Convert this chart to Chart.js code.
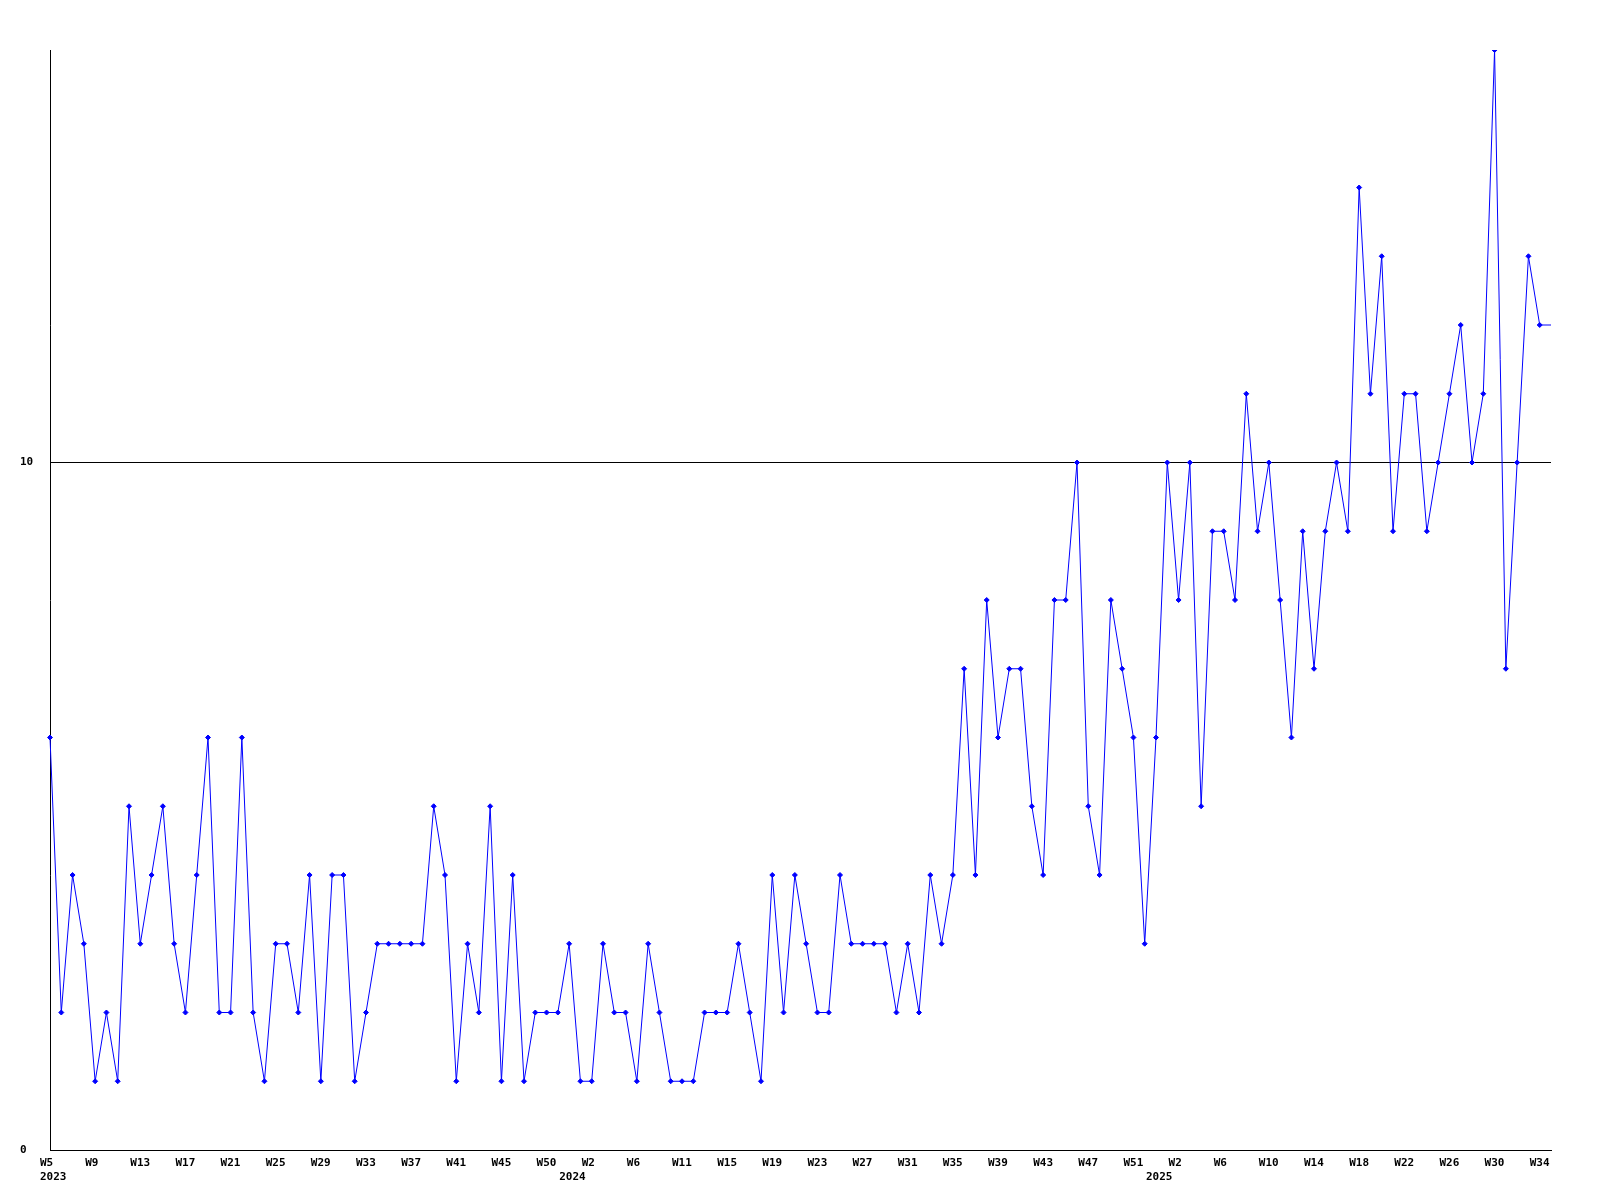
<!DOCTYPE html>
<html>
<head>
<meta charset="utf-8">
<script src="https://cdn.jsdelivr.net/npm/chart.js@4"></script>
<style>
  html, body { margin: 0; padding: 0; background: #fff; }
  #wrap { width: 1600px; height: 1200px; }
</style>
</head>
<body>
<div id="wrap"><canvas id="weekChart" width="1600" height="1200"></canvas></div>
<script>
// week numbers of every point, one list per year
var weeks2023 = [5, 6, 7, 8, 9, 10, 11, 12, 13, 14, 15, 16, 17, 18, 19, 20, 21, 22, 23, 24, 25, 26, 27, 28,
                 29, 30, 31, 32, 33, 34, 35, 36, 37, 38, 39, 40, 41, 42, 43, 44, 45, 46, 47, 49, 50, 51];
var weeks2024 = [0, 1, 2, 3, 4, 5, 6, 7, 8, 9, 11, 12, 13, 14, 15, 16, 17, 18, 19, 20, 21, 22, 23, 24, 25, 26,
                 27, 28, 29, 30, 31, 32, 33, 34, 35, 36, 37, 38, 39, 40, 41, 42, 43, 44, 45, 46, 47, 48, 49, 50, 51, 52];
var weeks2025 = [0, 1, 2, 3, 4, 5, 6, 7, 8, 9, 10, 11, 12, 13, 14, 15, 16, 17, 18, 19, 20, 21, 22, 23, 24, 25,
                 26, 27, 28, 29, 30, 31, 32, 33, 34, 35];

// weekly counts
var counts = [
  6, 2, 4, 3, 1, 2, 1, 5, 3, 4, 5, 3, 2, 4, 6, 2, 2, 6, 2, 1, 3, 3, 2, 4, 1, 4, 4, 1, 2, 3, 3, 3, 3, 3, 5, 4, 1, 3, 2, 5, 1, 4, 1,
  2, 2, 2, 3, 1, 1, 3, 2, 2, 1, 3, 2, 1, 1, 1, 2, 2, 2, 3, 2, 1, 4, 2, 4, 3, 2, 2, 4, 3, 3, 3, 3, 2, 3, 2, 4, 3, 4,
  7, 4, 8, 6, 7, 7, 5, 4, 8, 8, 10, 5, 4, 8, 7, 6, 3, 6, 10, 8, 10, 5,
  9, 9, 8, 11, 9, 10, 8, 6, 9, 7, 9, 10, 9, 14, 11, 13, 9, 11, 11, 9, 10, 11, 12, 10, 11, 16, 7, 10, 13, 12, 12
];

var yTicks = [0, 10];

var years = [];
var weeks = [];
[[2023, weeks2023], [2024, weeks2024], [2025, weeks2025]].forEach(function (y) {
	y[1].forEach(function (w) { years.push(y[0]); weeks.push(w); });
});
var labels = weeks.map(function (w, i) { return years[i] + '-W' + w; });

var tickFont = { family: '"DejaVu Sans Mono", monospace', size: 11, weight: 'bold', lineHeight: 1.27 };

var ctx = document.getElementById('weekChart');
new Chart(ctx, {
	type: 'line',
	data: {
		labels: labels,
		datasets: [{
			data: counts,
			borderColor: '#0000ff',
			backgroundColor: '#0000ff',
			borderWidth: 1,
			tension: 0,
			fill: false,
			pointStyle: 'rectRot',
			pointRadius: function (c) { return c.dataIndex === counts.length - 1 ? 0 : 2.5; },
			pointBorderWidth: 1
		}]
	},
	options: {
		responsive: false,
		animation: false,
		layout: { padding: { left: 20, top: 50, right: 49, bottom: 0 } },
		plugins: { legend: { display: false }, tooltip: { enabled: false } },
		scales: {
			x: {
				type: 'category',
				offset: false,
				grid: { display: false, drawTicks: false },
				border: { display: true, color: '#000', width: 1 },
				afterFit: function (s) { s.height = 50; },
				ticks: {
					autoSkip: false,
					maxRotation: 0,
					minRotation: 0,
					align: 'start',
					labelOffset: -10,
					padding: 6,
					color: '#000',
					font: tickFont,
					callback: function (v, i) {
						var wk = i % 4 === 0 ? 'W' + weeks[i] : '';
						var yr = (i === 0 || years[i] !== years[i - 1]) ? String(years[i]) : '';
						return [wk, yr];
					}
				}
			},
			y: {
				min: 0,
				max: 16,
				afterFit: function (s) { s.width = 30; },
				afterBuildTicks: function (s) {
					s.ticks = yTicks.map(function (v) { return { value: v }; });
				},
				grid: { color: '#000', lineWidth: 1, drawTicks: false },
				border: { display: true, color: '#000', width: 1 },
				ticks: {
					crossAlign: 'far',
					padding: 0,
					color: '#000',
					font: tickFont
				}
			}
		}
	}
});
</script>
</body>
</html>
